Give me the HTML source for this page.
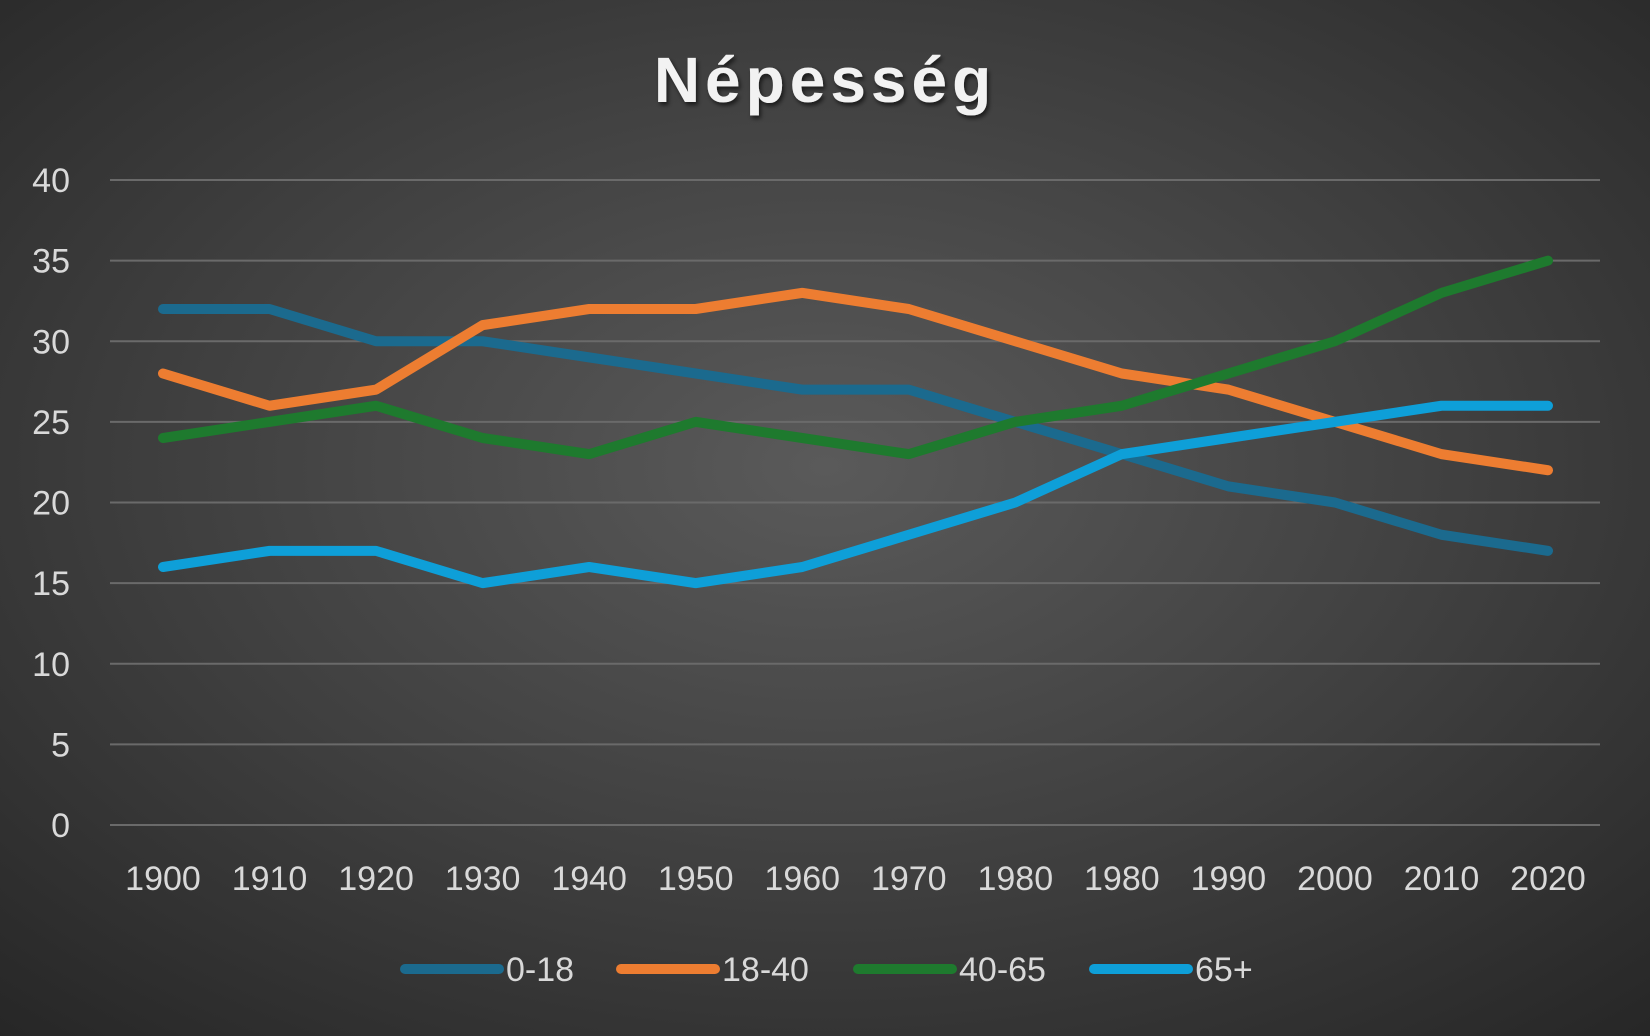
<!DOCTYPE html>
<html><head><meta charset="utf-8"><style>
html,body{margin:0;padding:0;}
body{width:1650px;height:1036px;overflow:hidden;background:radial-gradient(ellipse 75% 75% at 50% 45%,#5a5a5a 0%,#3e3e3e 55%,#262626 100%);font-family:"Liberation Sans",sans-serif;}
svg{position:absolute;left:0;top:0;}
</style></head><body>
<svg id="chart" width="1650" height="1036">
<defs><filter id="sh"><feDropShadow dx="2" dy="3" stdDeviation="2" flood-color="#000" flood-opacity="0.6"/></filter></defs>
<text x="825" y="102" text-anchor="middle" font-size="64" font-weight="bold" fill="#f2f2f2" letter-spacing="5" filter="url(#sh)">Népesség</text>
<g id="grid"></g><g id="yt"></g><g id="xt"></g><g id="lines"></g><g id="legend"></g>
</svg>
<script>
const categories=["1900","1910","1920","1930","1940","1950","1960","1970","1980","1980","1990","2000","2010","2020"];
const yTicks=[0,5,10,15,20,25,30,35,40];
const seriesNames=["0-18","18-40","40-65","65+"];
const seriesColors=["#1b6a8e","#ed7d31","#1e7a2e","#0e9fd8"];
const s0=[32,32,30,30,29,28,27,27,25,23,21,20,18,17];
const s1=[28,26,27,31,32,32,33,32,30,28,27,25,23,22];
const s2=[24,25,26,24,23,25,24,23,25,26,28,30,33,35];
const s3=[16,17,17,15,16,15,16,18,20,23,24,25,26,26];
const series=[s0,s1,s2,s3];
const NS="http://www.w3.org/2000/svg";
const x0=163,x1=1548,yb=825,yt=180;
const X=i=>x0+(x1-x0)*i/(categories.length-1);
const Y=v=>yb-(yb-yt)*v/40;
function mk(t,a,p){const e=document.createElementNS(NS,t);for(const k in a)e.setAttribute(k,a[k]);p.appendChild(e);return e;}
const g=document.getElementById('grid'),ytg=document.getElementById('yt'),xtg=document.getElementById('xt'),lg=document.getElementById('lines'),leg=document.getElementById('legend');
yTicks.forEach(v=>{
 const l=mk('line',{x1:110,x2:1600,y1:Y(v),y2:Y(v),stroke:'#6a6a6a','stroke-width':2},g);
 
 
 const t=mk('text',{x:70,y:Y(v)+12,'text-anchor':'end','font-size':34,fill:'#d9d9d9'},ytg);t.textContent=v;
 
 
});
categories.forEach((c,i)=>{
 const t=mk('text',{x:X(i),y:890,'text-anchor':'middle','font-size':34,fill:'#d9d9d9'},xtg);t.textContent=c;
 
 
});
series.forEach((s,k)=>{
 const p=mk('polyline',{points:s.map((v,i)=>X(i)+','+Y(v)).join(' '),fill:'none',stroke:seriesColors[k],'stroke-width':10,'stroke-linejoin':'round','stroke-linecap':'round'},lg);
 
 
});
const legX=[405,621,858,1094];
seriesNames.forEach((n,k)=>{
 const gg=mk('g',{},leg);
 
 
 mk('line',{x1:legX[k],x2:legX[k]+94,y1:969,y2:969,stroke:seriesColors[k],'stroke-width':10,'stroke-linecap':'round'},gg);
 const t=mk('text',{x:legX[k]+101,y:981,'font-size':34,fill:'#d9d9d9'},gg);t.textContent=n;
});
</script>
</body></html>
